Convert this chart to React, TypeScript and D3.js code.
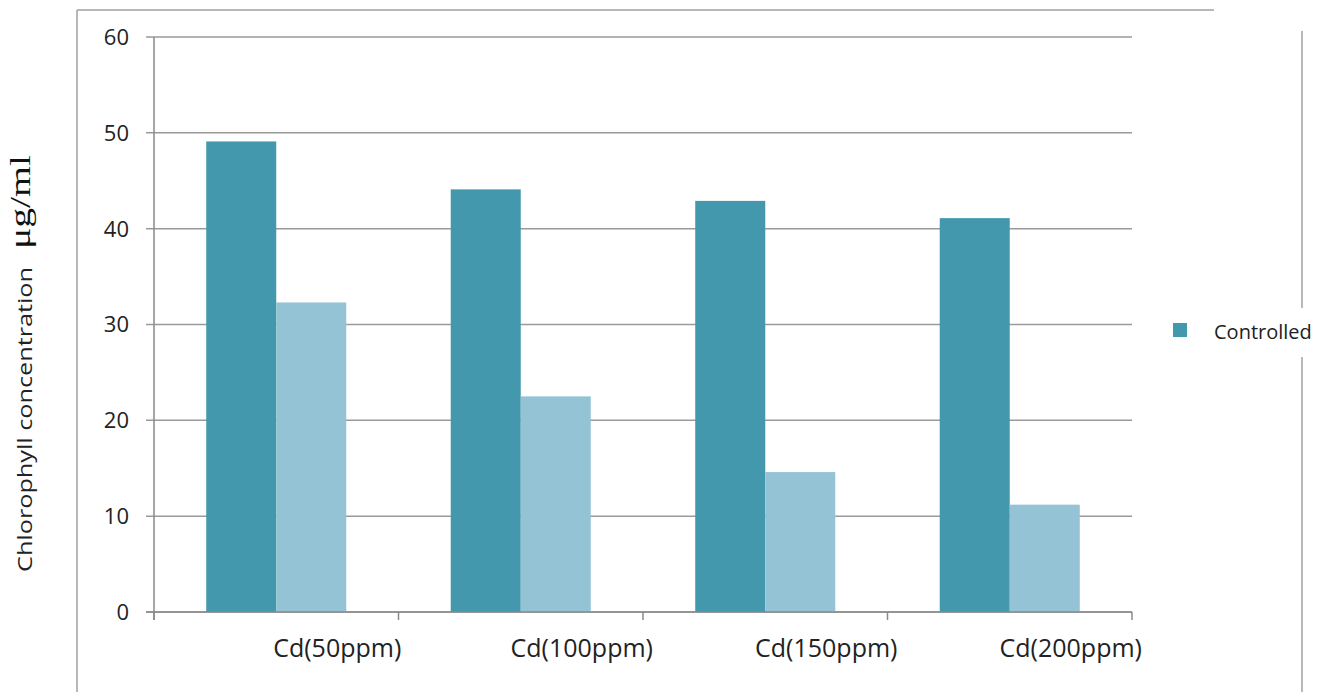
import React from "react";
import * as d3 from "d3";

const categories = ["Cd(50ppm)", "Cd(100ppm)", "Cd(150ppm)", "Cd(200ppm)"];
const seriesNames = ["Controlled", "Treated"];
const controlled = [49.1, 44.1, 42.9, 41.1];
const treated = [32.3, 22.5, 14.6, 11.2];
const yTicks = [0, 10, 20, 30, 40, 50, 60];
const seriesColors = ["#4398AE", "#93C3D4"];

const W = 1320;
const H = 692;

export default function App() {
  const y = d3.scaleLinear().domain([0, 60]).range([612, 37]);
  const x0 = d3.scaleBand<string>().domain(categories).range([154, 1132]).padding(0);
  const x1 = d3
    .scaleBand<string>()
    .domain(seriesNames)
    .range([0, x0.bandwidth()])
    .paddingInner(0)
    .paddingOuter(0.746);
  const values = [controlled, treated];
  const boundaries = [...categories.map((c) => x0(c) as number), 1132];
  const gridColor = "#9a9a9a";
  const axisColor = "#8a8a8a";
  const textColor = "#222";
  const sans = "'Open Sans', sans-serif";

  return (
    <svg
      width={W}
      height={H}
      style={{ position: "absolute", left: 0, top: 0, background: "#fff" }}
    >
      {/* outer frame */}
      <line x1={77} y1={10} x2={77} y2={H} stroke="#a0a0a0" strokeWidth={1.5} />
      <line x1={77} y1={10} x2={1214} y2={10} stroke="#a0a0a0" strokeWidth={1.5} />
      <line x1={1302} y1={31} x2={1302} y2={308} stroke="#a0a0a0" strokeWidth={1.5} />
      <line x1={1302} y1={357} x2={1302} y2={H} stroke="#a0a0a0" strokeWidth={1.5} />

      {/* gridlines + y ticks */}
      {yTicks.map((t) => (
        <g key={t}>
          <line x1={146} x2={1132} y1={y(t)} y2={y(t)} stroke={gridColor} strokeWidth={1.5} />
          <text
            x={129}
            y={y(t) + 2}
            textAnchor="end"
            dominantBaseline="middle"
            fontFamily={sans}
            fontSize={22}
            fill={textColor}
          >
            {t}
          </text>
        </g>
      ))}

      {/* bars */}
      {categories.map((c, i) => (
        <g key={c} transform={`translate(${x0(c)},0)`}>
          {seriesNames.map((s, j) => (
            <rect
              key={s}
              x={x1(s)}
              y={y(values[j][i])}
              width={x1.bandwidth()}
              height={y(0) - y(values[j][i])}
              fill={seriesColors[j]}
            />
          ))}
        </g>
      ))}

      {/* y axis line */}
      <line x1={154} x2={154} y1={37} y2={620} stroke={axisColor} strokeWidth={1.5} />
      {/* x axis */}
      <line x1={146} x2={1132} y1={612} y2={612} stroke={axisColor} strokeWidth={1.5} />
      {boundaries.map((b, i) => (
        <line key={i} x1={b} x2={b} y1={612} y2={620} stroke={axisColor} strokeWidth={1.5} />
      ))}

      {/* x labels */}
      {categories.map((c) => (
        <text
          key={c}
          x={(x0(c) as number) + x0.bandwidth() / 2 + 61}
          y={657}
          textAnchor="middle"
          fontFamily={sans}
          fontSize={25}
          fill={textColor}
        >
          {c}
        </text>
      ))}

      {/* y title */}
      <text
        transform="translate(32,572) rotate(-90)"
        fontFamily={sans}
        fontSize={20}
        fill={textColor}
        textLength={305}
        lengthAdjust="spacingAndGlyphs"
      >
        Chlorophyll concentration
      </text>
      <text
        transform="translate(30,249) rotate(-90)"
        fontFamily="'Liberation Serif', 'Times New Roman', serif"
        fontSize={30}
        fill="#111"
        textLength={94}
        lengthAdjust="spacingAndGlyphs"
      >
        μg/ml
      </text>

      {/* legend */}
      <rect x={1173} y={323} width={14} height={14} fill={seriesColors[0]} />
      <text
        x={1214}
        y={334}
        dominantBaseline="middle"
        fontFamily={sans}
        fontSize={20}
        fill={textColor}
      >
        {seriesNames[0]}
      </text>
    </svg>
  );
}
